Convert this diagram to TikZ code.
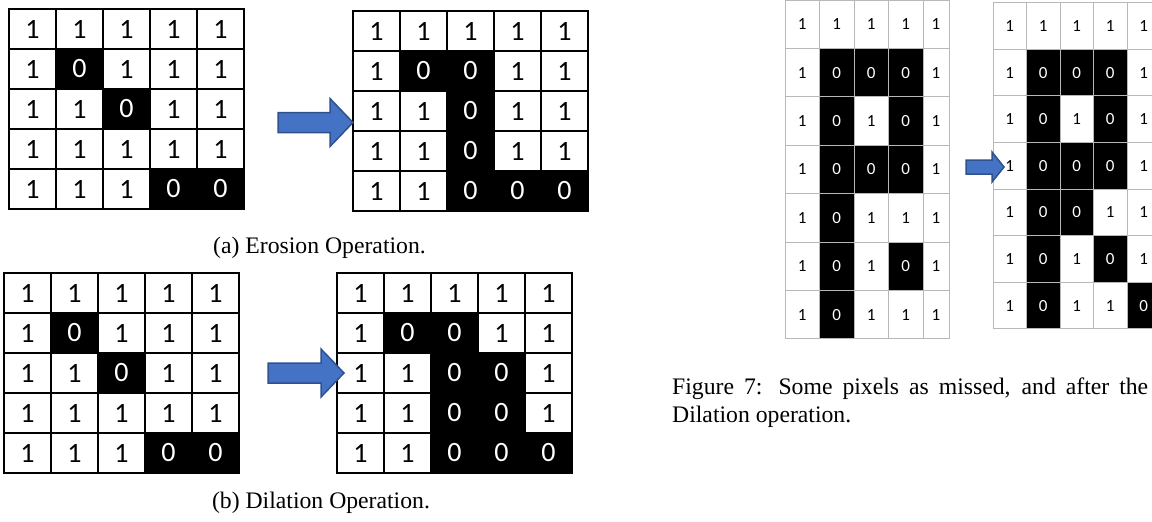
\documentclass[tikz,border=0pt]{standalone}
\usepackage{fontspec}
\setmainfont{Liberation Serif}
\newfontfamily\cellfont{Carlito}
\definecolor{arrowfill}{HTML}{4472C4}
\definecolor{arrowline}{HTML}{2F528F}
\begin{document}
\begin{tikzpicture}[x=1pt,y=-1pt]
	\tikzstyle{none}=[inner sep=0pt]
	\tikzstyle{bigcell}=[draw=black,line width=1.2,minimum width=47,minimum height=40,inner sep=0pt,font=\cellfont\fontsize{28}{28}\selectfont]
	\tikzstyle{smallcell}=[draw=black!28,line width=1,minimum height=48.4,inner sep=0pt,font=\cellfont\fontsize{17}{17}\selectfont]
	\tikzstyle{pix1}=[fill=white,text=black]
	\tikzstyle{pix0}=[fill=black,text=white]
	\tikzstyle{blockarrow}=[fill=arrowfill,draw=arrowline,line width=1.5]
	\tikzstyle{caption}=[inner sep=0pt,anchor=base,font=\fontsize{23.7}{28}\selectfont]
		\clip (0,0) rectangle (1152,522);

		% (a) erosion
		\foreach \row [count=\r] in {{1,1,1,1,1},{1,0,1,1,1},{1,1,0,1,1},{1,1,1,1,1},{1,1,1,0,0}}
			\foreach \v [count=\c] in \row
				\node [style=bigcell, style=pix\v] (ea-\r-\c) at ({9+47*(\c-0.5)}, {9+40*(\r-0.5)}) {\v};
		\foreach \row [count=\r] in {{1,1,1,1,1},{1,0,0,1,1},{1,1,0,1,1},{1,1,0,1,1},{1,1,0,0,0}}
			\foreach \v [count=\c] in \row
				\node [style=bigcell, style=pix\v] (eb-\r-\c) at ({353+47*(\c-0.5)}, {11+40*(\r-0.5)}) {\v};
		\draw [style=blockarrow] (278,112.5) -- (330,112.5) -- (330,98.5) -- (353,122.5) -- (330,146.5) -- (330,132.5) -- (278,132.5) -- cycle;
		\node [style=caption] (capa) at (319.5,253) {(a) Erosion Operation.};

		% (b) dilation
		\foreach \row [count=\r] in {{1,1,1,1,1},{1,0,1,1,1},{1,1,0,1,1},{1,1,1,1,1},{1,1,1,0,0}}
			\foreach \v [count=\c] in \row
				\node [style=bigcell, style=pix\v] (da-\r-\c) at ({4+47*(\c-0.5)}, {273+40*(\r-0.5)}) {\v};
		\foreach \row [count=\r] in {{1,1,1,1,1},{1,0,0,1,1},{1,1,0,0,1},{1,1,0,0,1},{1,1,0,0,0}}
			\foreach \v [count=\c] in \row
				\node [style=bigcell, style=pix\v] (db-\r-\c) at ({337+47*(\c-0.5)}, {273+40*(\r-0.5)}) {\v};
		\draw [style=blockarrow] (268,363) -- (321,363) -- (321,349) -- (344,373) -- (321,397) -- (321,383) -- (268,383) -- cycle;
		\node [style=caption] (capb) at (321,508) {(b) Dilation Operation.};

		% figure 7
		\foreach \row [count=\r] in {{1,1,1,1,1},{1,0,0,0,1},{1,0,1,0,1},{1,0,0,0,1},{1,0,1,1,1},{1,0,1,0,1},{1,0,1,1,1}}
			\foreach \v [count=\c] in \row
				\node [style=smallcell, style=pix\v, minimum width={34.5-8.5*(\c==5)}] (fa-\r-\c) at ({785+34.5*(\c-0.5)-4.25*(\c==5)}, {48.4*(\r-0.5)}) {\v};
		\foreach \row [count=\r] in {{1,1,1,1,1},{1,0,0,0,1},{1,0,1,0,1},{1,0,0,0,1},{1,0,0,1,1},{1,0,1,0,1},{1,0,1,1,0}}
			\foreach \v [count=\c] in \row
				\node [style=smallcell, style=pix\v, minimum width=33.5, minimum height=46.6] (fb-\r-\c) at ({993+33.5*(\c-0.5)}, {2.7+46.6*(\r-0.5)}) {\v};
		\draw [style=blockarrow] (966,160) -- (992,160) -- (992,152) -- (1004,167) -- (992,182) -- (992,174) -- (966,174) -- cycle;
		\node [style=caption, anchor=base west] (cap7a) at (672,394) {\makebox[476pt][s]{Figure 7: Some pixels as missed, and after the}};
		\node [style=caption, anchor=base west] (cap7b) at (672,422) {Dilation operation.};

\end{tikzpicture}
\end{document}
